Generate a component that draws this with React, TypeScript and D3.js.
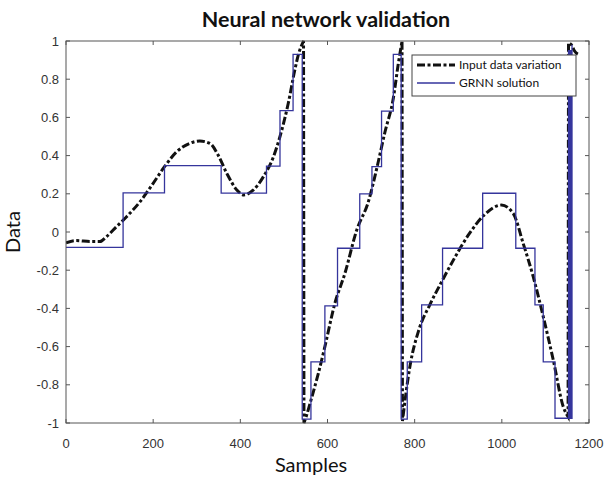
import React from "react";
import * as d3 from "d3";

// ---- Data ----
const xTicks = [0, 200, 400, 600, 800, 1000, 1200];
const yTicks = [-1, -0.8, -0.6, -0.4, -0.2, 0, 0.2, 0.4, 0.6, 0.8, 1];

// Input data variation (black dash-dot curve)
const inputX = [
  0, 24, 55, 78, 93, 116, 139, 170, 200, 226, 254, 284, 307, 330, 349, 369, 392, 408, 430, 453, 476, 491, 510, 525, 533, 545,
  546, 552, 560, 579, 594, 617, 640, 667, 694, 713, 732, 751, 762, 771,
  772, 789, 810, 835, 862, 893, 925, 960, 999, 1026, 1049, 1072, 1095, 1118, 1141, 1152,
  1153, 1160, 1166, 1176,
];
const inputY = [
  -0.056, -0.045, -0.05, -0.05, -0.024, 0.028, 0.08, 0.159, 0.255, 0.342, 0.42, 0.464, 0.476, 0.464, 0.403, 0.307, 0.22, 0.194, 0.22, 0.29, 0.394, 0.5, 0.674, 0.848, 0.927, 1.0,
  -1.0, -0.96, -0.897, -0.74, -0.6, -0.373, -0.216, 0.01, 0.16, 0.333, 0.525, 0.7, 0.874, 1.0,
  -0.99, -0.705, -0.51, -0.38, -0.26, -0.13, -0.01, 0.09, 0.141, 0.098, -0.06, -0.234, -0.443, -0.67, -0.915, -0.967,
  0.99, 0.98, 0.95, 0.93,
];
// index where each smooth piece of the input curve starts (pieces joined by vertical jumps)
const inputPieceStarts = [0, 26, 40, 56];

// GRNN solution (blue step function): level starts at x
const grnnX = [
  0, 131, 226, 356, 460, 491, 521, 542,
  562, 594, 623, 674, 702, 724, 751, 769,
  783, 816, 864, 956, 1032, 1076, 1095, 1122,
  1153, 1155, 1157, 1159, 1161,
];
const grnnY = [
  -0.08, 0.205, 0.347, 0.204, 0.345, 0.635, 0.93, -0.98,
  -0.68, -0.387, -0.085, 0.2, 0.342, 0.633, 0.93, -0.98,
  -0.68, -0.382, -0.085, 0.203, -0.085, -0.382, -0.68, -0.975,
  0.95, -0.975, 0.95, -0.975, 0.98,
];

const title = "Neural network validation";
const xLabel = "Samples";
const yLabel = "Data";
const legendLabels = ["Input data variation", "GRNN solution"];

export default function App() {
  const W = 605;
  const H = 480;
  const left = 66, right = 589, top = 41, bottom = 423;
  const x = d3.scaleLinear().domain([0, 1200]).range([left, right]);
  const y = d3.scaleLinear().domain([-1, 1]).range([bottom, top]);

  const inputPts: [number, number][] = inputX.map((v, i) => [v, inputY[i]]);
  const grnnPts: [number, number][] = grnnX.map((v, i) => [v, grnnY[i]]);

  const smooth = d3
    .line<[number, number]>()
    .x((d) => x(d[0]))
    .y((d) => y(d[1]))
    .curve(d3.curveMonotoneX);
  const grnnLine = d3
    .line<[number, number]>()
    .x((d) => x(d[0]))
    .y((d) => y(d[1]))
    .curve(d3.curveStepAfter);

  // one continuous path: smooth pieces joined with straight vertical jumps
  let inputPath = "";
  inputPieceStarts.forEach((s, k) => {
    const e = k + 1 < inputPieceStarts.length ? inputPieceStarts[k + 1] : inputPts.length;
    const piece = inputPts.slice(s, e);
    let d = piece.length > 1 ? smooth(piece) || "" : `M${x(piece[0][0])},${y(piece[0][1])}`;
    if (k > 0) d = "L" + d.slice(1);
    inputPath += d;
  });

  const fmt = (v: number) => String(Math.round(v * 10) / 10);
  const tickLen = 4;
  const axisColor = "#555";
  const blue = "#35359c";
  const uiFont = "Lato, 'Open Sans', sans-serif";

  return (
    <svg width={W} height={H} style={{ position: "absolute", left: 0, top: 0, background: "#fff" }}>
      <rect x={0} y={0} width={W} height={H} fill="#fff" />
      <text x={326} y={27} textAnchor="middle" fontFamily={uiFont} fontWeight="bold" fontSize={21.5} fill="#111">
        {title}
      </text>

      <defs>
        <clipPath id="plotclip">
          <rect x={left} y={top - 2} width={right - left} height={bottom - top + 4} />
        </clipPath>
      </defs>

      <g clipPath="url(#plotclip)">
        <path d={inputPath} fill="none" stroke="#111" strokeWidth={3} strokeDasharray="8,2.5,3,2.5" />
        <path d={grnnLine(grnnPts) || ""} fill="none" stroke={blue} strokeWidth={1.3} />
      </g>

      {/* axes box */}
      <rect x={left} y={top} width={right - left} height={bottom - top} fill="none" stroke={axisColor} strokeWidth={1} />
      {xTicks.map((t) => (
        <g key={"xt" + t}>
          <line x1={x(t)} x2={x(t)} y1={bottom} y2={bottom - tickLen} stroke={axisColor} />
          <line x1={x(t)} x2={x(t)} y1={top} y2={top + tickLen} stroke={axisColor} />
          <text x={x(t)} y={448} textAnchor="middle" fontFamily="'Liberation Sans', Arial, sans-serif" fontSize={13} fill="#333">
            {fmt(t)}
          </text>
        </g>
      ))}
      {yTicks.map((t) => (
        <g key={"yt" + t}>
          <line x1={left} x2={left + tickLen} y1={y(t)} y2={y(t)} stroke={axisColor} />
          <line x1={right} x2={right - tickLen} y1={y(t)} y2={y(t)} stroke={axisColor} />
          <text x={59} y={y(t) + 4.5} textAnchor="end" fontFamily="'Liberation Sans', Arial, sans-serif" fontSize={13} fill="#333">
            {fmt(t)}
          </text>
        </g>
      ))}

      <text x={311} y={472} textAnchor="middle" fontFamily={uiFont} fontSize={20} fill="#111">
        {xLabel}
      </text>
      <text
        transform={`translate(20,${(top + bottom) / 2}) rotate(-90)`}
        textAnchor="middle"
        fontFamily={uiFont}
        fontSize={20}
        fill="#111"
      >
        {yLabel}
      </text>

      {/* legend */}
      <g>
        <rect x={412} y={55} width={164} height={41} fill="#fff" stroke="#444" strokeWidth={1} />
        <line x1={417} x2={455} y1={65} y2={65} stroke="#111" strokeWidth={3} strokeDasharray="8,2.5,3,2.5" />
        <text x={459} y={69} fontFamily={uiFont} fontSize={12} fill="#111">
          {legendLabels[0]}
        </text>
        <line x1={417} x2={455} y1={83} y2={83} stroke={blue} strokeWidth={1.3} />
        <text x={459} y={87} fontFamily={uiFont} fontSize={12} fill="#111">
          {legendLabels[1]}
        </text>
      </g>
    </svg>
  );
}
